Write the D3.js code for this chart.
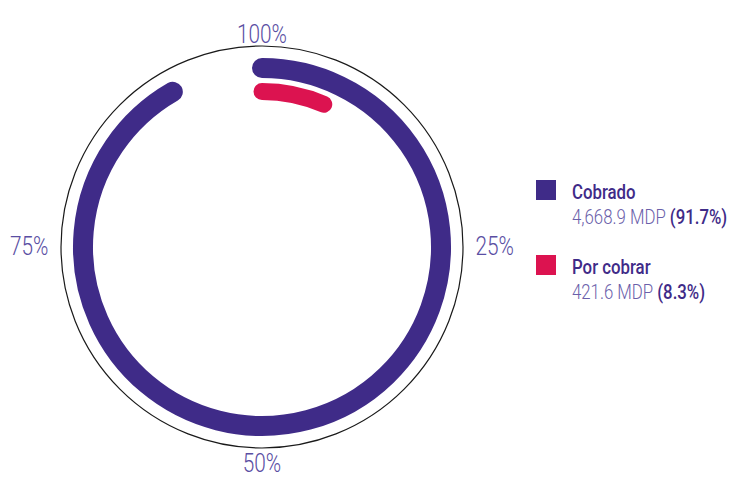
<!DOCTYPE html>
<html>
<head>
<meta charset="utf-8">
<script src="https://cdn.jsdelivr.net/npm/d3@7/dist/d3.min.js"></script>
<style>
  html, body { margin: 0; padding: 0; background: #ffffff; }
  svg { display: block; }
  .lbl { font-family: "Roboto", "Open Sans", "DejaVu Sans", sans-serif; }
</style>
</head>
<body>
<svg id="chart" width="729" height="477"></svg>
<script>
// ---- data ----
const categories = ["Cobrado", "Por cobrar"];
const amounts = ["4,668.9", "421.6"];          // MDP
const shares = [91.7, 8.3];                     // % shown in legend
const arcShares = [91.7, 6.5];                  // extent of each arc as drawn
const tickValues = [100, 25, 50, 75];
const tickLabels = ["100%", "25%", "50%", "75%"];
const colors = ["#3f2b88", "#dc1350"];

// ---- layout ----
const svg = d3.select("#chart");
const cx = 262, cy = 247;
const outerR = 201;
const ringR = [179, 155.5];
const ringW = [20, 17];
const SX = 0.8; // horizontal condensing of text

const angle = d3.scaleLinear().domain([0, 100]).range([0, 2 * Math.PI]);

const g = svg.append("g");

// outer guide circle
g.append("circle")
  .attr("cx", cx).attr("cy", cy).attr("r", outerR)
  .attr("fill", "none").attr("stroke", "#1a1a1a").attr("stroke-width", 1.2);

// arcs
function arcPath(r, v) {
  const p = d3.path();
  const a0 = angle(0) - Math.PI / 2;
  const a1 = angle(v) - Math.PI / 2;
  p.moveTo(cx + r * Math.cos(a0), cy + r * Math.sin(a0));
  p.arc(cx, cy, r, a0, a1, false);
  return p.toString();
}
g.selectAll("path.ring")
  .data(categories)
  .join("path")
  .attr("class", "ring")
  .attr("d", (d, i) => arcPath(ringR[i], arcShares[i]))
  .attr("fill", "none")
  .attr("stroke", (d, i) => colors[i])
  .attr("stroke-width", (d, i) => ringW[i])
  .attr("stroke-linecap", "round");

// percentage tick labels around the circle
g.selectAll("g.tick")
  .data(tickValues)
  .join("g")
  .attr("class", "tick")
  .each(function (v, i) {
    const a = angle(v % 100);
    const s = Math.sin(a), c = Math.cos(a);
    let x, y, anchor;
    if (Math.abs(s) < 0.01) {
      anchor = "middle";
      x = cx;
      y = c > 0 ? cy - outerR - 3.5 : cy + outerR + 23.5;
    } else {
      anchor = s > 0 ? "start" : "end";
      x = cx + s * (outerR + 12.5);
      y = cy + 8;
    }
    d3.select(this)
      .attr("transform", `translate(${x},${y}) scale(${SX},1)`)
      .append("text")
      .attr("class", "lbl")
      .attr("text-anchor", anchor)
      .attr("font-size", 26)
      .attr("font-weight", 300)
      .attr("fill", "#5a4ea3")
      .text(tickLabels[i]);
  });

// legend
const legend = svg.append("g").attr("transform", "translate(536,180)");
const item = legend.selectAll("g.item")
  .data(categories)
  .join("g")
  .attr("class", "item")
  .attr("transform", (d, i) => `translate(0,${i * 75})`);

item.append("rect")
  .attr("width", 20).attr("height", 20)
  .attr("fill", (d, i) => colors[i]);

item.append("g")
  .attr("transform", `translate(36,19) scale(${SX},1)`)
  .append("text")
  .attr("class", "lbl")
  .attr("font-size", 21)
  .attr("font-weight", 500)
  .attr("fill", "#3f2b88")
  .text(d => d);

const vt = item.append("g")
  .attr("transform", `translate(36,43.5) scale(${SX},1)`)
  .append("text")
  .attr("class", "lbl")
  .attr("font-size", 21);
vt.append("tspan")
  .attr("fill", "#6a60aa")
  .attr("font-weight", 300)
  .text((d, i) => `${amounts[i]} MDP `);
vt.append("tspan")
  .attr("fill", "#3f2b88")
  .attr("font-weight", 500)
  .text((d, i) => `(${shares[i]}%)`);
</script>
</body>
</html>
